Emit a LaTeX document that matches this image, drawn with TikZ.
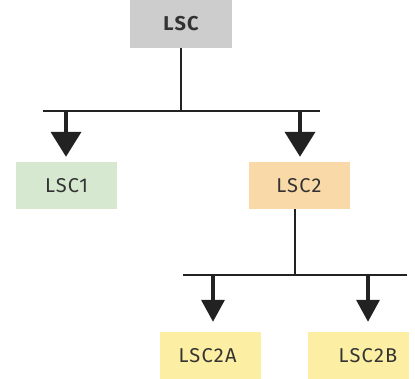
\documentclass[tikz,border=0pt]{standalone}
\usepackage{fontspec}
\setmainfont{Fira Sans}[LetterSpace=6]
\usetikzlibrary{arrows.meta}
\definecolor{boxgray}{HTML}{CDCDCD}
\definecolor{boxgreen}{HTML}{D6E9D0}
\definecolor{boxorange}{HTML}{F9D9A8}
\definecolor{boxyellow}{HTML}{FCEEA3}
\definecolor{ink}{HTML}{222222}
\definecolor{txt}{HTML}{333333}
\tikzset{
  box/.style={minimum width=101pt, minimum height=47pt, inner sep=0pt, text=txt, font=\fontsize{20}{23}\selectfont},
  conn/.style={draw=ink, line width=2pt},
  arr/.style={draw=ink, line width=4pt, -{Triangle[length=25pt,width=30pt]}, shorten >=5pt},
  arrs/.style={draw=ink, line width=3.5pt, -{Triangle[length=22pt,width=23pt]}, shorten >=10pt},
}
\begin{document}
\begin{tikzpicture}[x=1pt,y=-1pt]
\useasboundingbox (0,0) rectangle (415,379);
\node[box, fill=boxgray, minimum width=102pt, minimum height=48pt, font=\fontsize{20}{23}\selectfont\bfseries] (lsc) at (181,24) {LSC};
\node[box, fill=boxgreen] (lsc1) at (66.5,185.5) {LSC1};
\node[box, fill=boxorange] (lsc2) at (299,185.5) {LSC2};
\node[box, fill=boxyellow] (lsc2a) at (210.5,355.5) {\hspace*{-6pt}LSC2A};
\node[box, fill=boxyellow] (lsc2b) at (358.5,355.5) {\hspace*{19pt}LSC2B};
% top bar
\coordinate (barL) at (43,111);
\coordinate (barR) at (320,111);
\coordinate (j1) at (181,111);
\coordinate (a1) at (66,111);
\coordinate (a2) at (300,111);
\draw[conn] (lsc.south) -- (j1);
\draw[conn] (barL) -- (barR);
\draw[arr] (a1) -- (a1 |- lsc1.north);
\draw[arr] (a2) -- (a2 |- lsc2.north);
% lower bar
\coordinate (bar2L) at (183,275);
\coordinate (bar2R) at (407,275);
\coordinate (j2) at (295,275);
\coordinate (b1) at (213,275);
\coordinate (b2) at (368,275);
\draw[conn] (lsc2.south -| j2) -- (j2);
\draw[conn] (bar2L) -- (bar2R);
\draw[arrs] (b1) -- (b1 |- lsc2a.north);
\draw[arrs] (b2) -- (b2 |- lsc2b.north);
\end{tikzpicture}
\end{document}
